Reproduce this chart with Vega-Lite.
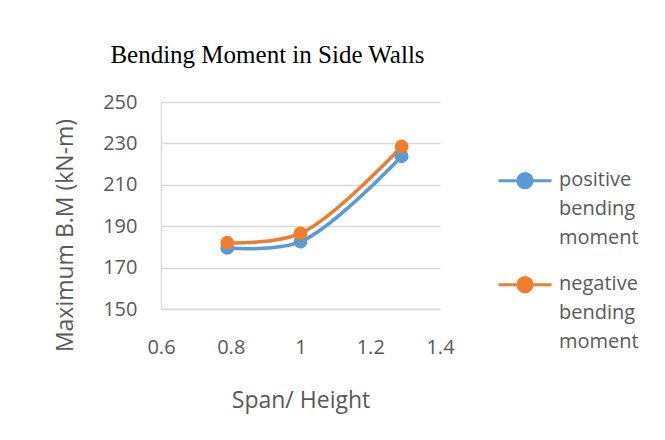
{
  "$schema": "https://vega.github.io/schema/vega-lite/v6.json",
  "width": 279,
  "height": 207,
  "autosize": {"type": "none"},
  "padding": {"left": 161, "top": 102, "right": 225, "bottom": 131},
  "background": "white",
  "title": {
    "text": "Bending Moment in Side Walls",
    "font": "Liberation Serif",
    "fontSize": 25,
    "fontWeight": "normal",
    "color": "#000000",
    "anchor": "middle",
    "frame": "group",
    "dx": -33,
    "baseline": "alphabetic",
    "offset": 4
  },
  "data": {
    "values": [
      {"x": 0.79, "y": 179.5, "series": "positive bending moment"},
      {"x": 1.0, "y": 182.5, "series": "positive bending moment"},
      {"x": 1.29, "y": 223.8, "series": "positive bending moment"},
      {"x": 0.79, "y": 182.0, "series": "negative bending moment"},
      {"x": 1.0, "y": 186.5, "series": "negative bending moment"},
      {"x": 1.29, "y": 228.5, "series": "negative bending moment"}
    ]
  },
  "encoding": {
    "x": {
      "field": "x",
      "type": "quantitative",
      "scale": {"domain": [0.6, 1.4], "nice": false, "zero": false},
      "axis": {
        "values": [0.6, 0.8, 1, 1.2, 1.4],
        "format": ".1~f",
        "title": "Span/ Height",
        "grid": false,
        "ticks": false,
        "domainColor": "#D9D9D9",
        "domainWidth": 1.5,
        "labelFont": "Open Sans",
        "labelFontSize": 20,
        "labelColor": "#595959",
        "labelPadding": 28,
        "labelFlush": false,
        "labelOverlap": false,
        "titleFont": "Open Sans",
        "titleFontSize": 23,
        "titleFontWeight": "normal",
        "titleColor": "#595959",
        "titlePadding": 32
      }
    },
    "y": {
      "field": "y",
      "type": "quantitative",
      "scale": {"domain": [150, 250], "nice": false, "zero": false},
      "axis": {
        "values": [150, 170, 190, 210, 230, 250],
        "title": "Maximum B.M (kN-m)",
        "grid": true,
        "gridColor": "#D9D9D9",
        "gridWidth": 1.5,
        "ticks": false,
        "domainColor": "#D9D9D9",
        "domainWidth": 1.5,
        "labelFont": "Open Sans",
        "labelFontSize": 20,
        "labelColor": "#595959",
        "labelPadding": 24,
        "labelFlush": false,
        "labelOverlap": false,
        "titleFont": "Open Sans",
        "titleFontSize": 23,
        "titleFontWeight": "normal",
        "titleColor": "#595959",
        "titleX": -96,
        "titleY": 133,
        "titleBaseline": "middle",
        "titleAlign": "center",
        "titleAngle": -90
      }
    },
    "color": {
      "field": "series",
      "type": "nominal",
      "sort": ["positive bending moment", "negative bending moment"],
      "scale": {
        "domain": ["positive bending moment", "negative bending moment"],
        "range": ["#5B9BD5", "#ED7D31"]
      },
      "legend": {
        "orient": "none",
        "legendX": 336,
        "legendY": 56,
        "title": null,
        "padding": 0,
        "symbolType": "M-1,-0.2L1,-0.2M-0.27,-0.2A0.27,0.27,0,1,1,0.27,-0.2A0.27,0.27,0,1,1,-0.27,-0.2Z",
        "symbolSize": 2809,
        "symbolStrokeWidth": 3,
        "labelFont": "Open Sans",
        "labelFontSize": 20,
        "labelColor": "#595959",
        "labelLimit": 0,
        "labelOffset": 6,
        "rowPadding": 14,
        "labelBaseline": "alphabetic",
        "labelExpr": "split(datum.label, ' ')",
        "encode": {
          "symbols": {
            "update": {
              "fill": {"scale": "color", "field": "value"},
              "stroke": {"scale": "color", "field": "value"},
              "opacity": {"value": 1}
            }
          },
          "labels": {
            "update": {"lineHeight": {"value": 29}}
          }
        }
      }
    }
  },
  "layer": [
    {"mark": {"type": "line", "interpolate": "catmull-rom", "strokeWidth": 3.5}},
    {"mark": {"type": "point", "filled": true, "size": 190, "opacity": 1}}
  ],
  "config": {"view": {"stroke": null}}
}
